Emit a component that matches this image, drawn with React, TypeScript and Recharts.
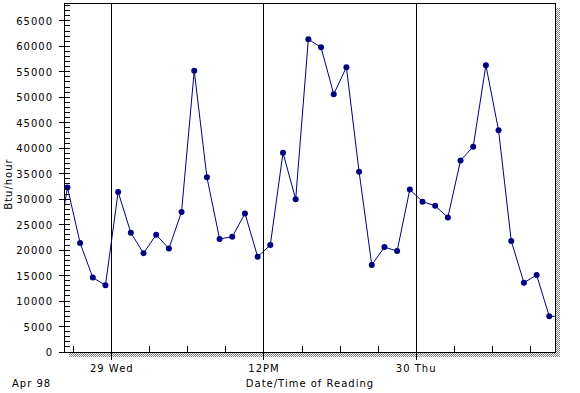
import React from 'react';
import { LineChart, Line, XAxis, YAxis, ReferenceLine, ReferenceArea, Label } from 'recharts';

// hours relative to midnight, Apr 29 (readings on the half hour)
const hours = [
  -4.5, -3.5, -2.5, -1.5, -0.5, 0.5, 1.5, 2.5, 3.5, 4.5, 5.5, 6.5, 7.5, 8.5,
  9.5, 10.5, 11.5, 12.5, 13.5, 14.5, 15.5, 16.5, 17.5, 18.5, 19.5, 20.5, 21.5,
  22.5, 23.5, 24.5, 25.5, 26.5, 27.5, 28.5, 29.5, 30.5, 31.5, 32.5, 33.5, 34.5, 35.5,
];
const btuPerHour = [
  17000, 32300, 21400, 14600, 13100, 31400, 23400, 19400, 23000, 20300, 27500,
  55200, 34300, 22200, 22600, 27200, 18700, 21000, 39100, 30000, 61400, 59800,
  50600, 55900, 35400, 17100, 20600, 19800, 31900, 29500, 28700, 26400, 37600,
  40300, 56300, 43500, 21800, 13600, 15100, 7000, 7000,
];
const xTicks = [-3, 0, 3, 6, 9, 12, 15, 18, 21, 24, 27, 30, 33];
const dayLines = [0, 12, 24];
const dayLabels: Record<number, string> = { 0: '29 Wed', 12: '12PM', 24: '30 Thu' };
const yTicks = Array.from({ length: 69 }, (_, i) => i * 1000);
const X_DOMAIN: [number, number] = [-3.77, 34.95];
const Y_DOMAIN: [number, number] = [0, 68500];

const data = hours.map((h, i) => ({ h, v: btuPerHour[i] }));

const FONT = '"DejaVu Sans", sans-serif';
const textStyle = { fontFamily: FONT, fontSize: 10, letterSpacing: 1, fill: '#000' };
const shade = 'repeating-conic-gradient(#808080 0 25%, #fff 0 50%) 0 0 / 2px 2px';

const YTick = (props: any) => {
  const { x, y, payload } = props;
  const major = payload.value % 5000 === 0 && payload.value <= 65000;
  return (
    <g>
      <line x1={major ? x - 5 : x} x2={x + 6} y1={y} y2={y} stroke="#000" shapeRendering="crispEdges" />
      {major && (
        <text x={x - 11} y={y + 4} textAnchor="end" style={textStyle}>
          {payload.value}
        </text>
      )}
    </g>
  );
};

const XTick = (props: any) => {
  const { x, y, payload } = props;
  const label = dayLabels[payload.value];
  return (
    <g>
      <line x1={x} x2={x} y1={y - 6} y2={label ? y + 8 : y} stroke="#000" shapeRendering="crispEdges" />
      {label && (
        <text x={x} y={y + 20} textAnchor="middle" style={textStyle}>
          {label}
        </text>
      )}
    </g>
  );
};

export default function App() {
  return (
    <div style={{ position: 'absolute', left: 0, top: 0, width: 580, height: 393, background: '#fff' }}>
      <div style={{ position: 'absolute', left: 69, top: 353, width: 491, height: 4, background: shade }} />
      <div style={{ position: 'absolute', left: 556, top: 8, width: 4, height: 349, background: shade }} />
      <div style={{ position: 'absolute', left: 0, top: 0 }}>
        <LineChart width={580} height={393} data={data} margin={{ top: 3, right: 25, bottom: 0, left: 4 }}>
          <ReferenceArea
            x1={X_DOMAIN[0]}
            x2={X_DOMAIN[1]}
            y1={Y_DOMAIN[0]}
            y2={Y_DOMAIN[1]}
            fill="none"
            stroke="#000"
            strokeWidth={1}
            shapeRendering="crispEdges"
          />
          <XAxis
            type="number"
            dataKey="h"
            domain={X_DOMAIN}
            allowDataOverflow
            ticks={xTicks}
            interval={0}
            height={41}
            tickSize={0}
            tickMargin={0}
            tickLine={false}
            axisLine={{ stroke: '#000', shapeRendering: 'crispEdges' }}
            tick={<XTick />}
          >
            <Label
              content={() => (
                <g>
                  <text x={310} y={387} textAnchor="middle" style={textStyle}>
                    Date/Time of Reading
                  </text>
                  <text x={12} y={387} textAnchor="start" style={textStyle}>
                    Apr 98
                  </text>
                </g>
              )}
            />
          </XAxis>
          <YAxis
            type="number"
            domain={Y_DOMAIN}
            allowDataOverflow
            ticks={yTicks}
            interval={0}
            width={60}
            tickSize={0}
            tickMargin={0}
            tickLine={false}
            axisLine={{ stroke: '#000', shapeRendering: 'crispEdges' }}
            tick={<YTick />}
          >
            <Label
              content={() => (
                <text x={12} y={184} textAnchor="middle" transform="rotate(-90 12 184)" style={textStyle}>
                  Btu/hour
                </text>
              )}
            />
          </YAxis>
          {dayLines.map((d) => (
            <ReferenceLine key={d} x={d} stroke="#000" strokeWidth={1} shapeRendering="crispEdges" />
          ))}
          <Line
            type="linear"
            dataKey="v"
            stroke="#000080"
            strokeWidth={1}
            dot={{ r: 3, fill: '#000080', stroke: '#000080', strokeWidth: 0 }}
            isAnimationActive={false}
          />
        </LineChart>
      </div>
    </div>
  );
}
